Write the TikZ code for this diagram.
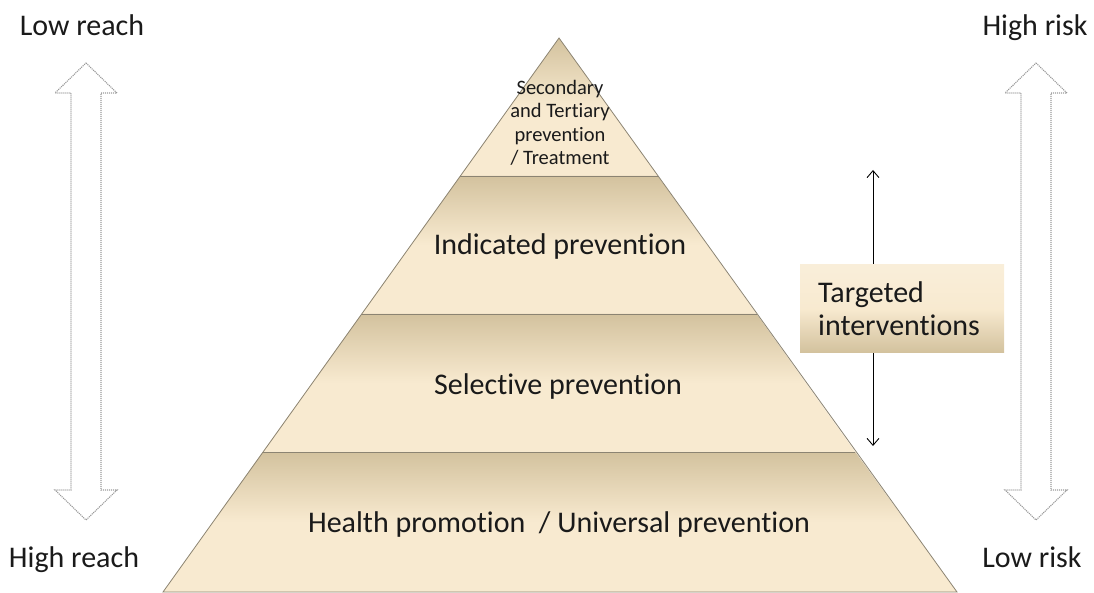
\documentclass[tikz,border=0pt]{standalone}
\usepackage{fontspec}
\setmainfont{Carlito}[Ligatures={NoCommon,NoContextual}]
\usetikzlibrary{arrows.meta}
\definecolor{tanD}{HTML}{D3C29E}
\definecolor{tanL}{HTML}{F8EAD0}
\definecolor{edgeC}{HTML}{8C8472}
\definecolor{txtC}{HTML}{1A1A1A}
\tikzset{
  band/.style={top color=tanD, bottom color=tanL, middle color=tanL},
  edge/.style={draw=edgeC, line width=0.8pt},
  lbl/.style={text=txtC, font=\fontsize{30}{34}\selectfont, inner sep=0pt},
  blockarrow/.style={draw=gray!80, line width=1.1pt, dash pattern=on 1.1pt off 0.9pt},
}
\begin{document}
\begin{tikzpicture}[x=1pt,y=-1pt]
\useasboundingbox (0,0) rectangle (1094,593);
% pyramid bands
\coordinate (apex) at (559,38);
\shade[band] (apex) -- (657.9,176) -- (460.1,176) -- cycle;
\shade[band] (460.1,176) -- (657.9,176) -- (756.6,314) -- (361.4,314) -- cycle;
\shade[band] (361.4,314) -- (756.6,314) -- (855.3,452) -- (262.7,452) -- cycle;
\shade[band] (262.7,452) -- (855.3,452) -- (957,592) -- (163,592) -- cycle;
\draw[edge] (apex) -- (957,592) -- (163,592) -- cycle;
\draw[edge] (460.1,176) -- (657.9,176);
\draw[edge] (361.4,314) -- (756.6,314);
\draw[edge] (262.7,452) -- (855.3,452);
% labels
\node[lbl, font=\fontsize{20.5}{23.5}\selectfont, align=center] (top) at (560,123) {Secondary\\and Tertiary\\prevention\\/ Treatment};
\node[lbl] (ind) at (560,247) {Indicated prevention};
\node[lbl] (sel) at (558,387) {Selective prevention};
\node[lbl] (uni) at (559,524) {Health promotion \ / Universal prevention};
% side labels
\node[lbl] (lowreach) at (82,25) {Low reach};
\node[lbl] (highreach) at (74,560) {High reach};
\node[lbl] (highrisk) at (1035,28) {High risk};
\node[lbl] (lowrisk) at (1032,557) {Low risk};
% block arrows
\draw[blockarrow] (86,63) -- (117,93) -- (101,93) -- (101,490) -- (117,490) -- (86,520) -- (55,490) -- (71,490) -- (71,93) -- (55,93) -- cycle;
\draw[blockarrow] (1036,63) -- (1067,93) -- (1051,93) -- (1051,490) -- (1067,490) -- (1036,520) -- (1005,490) -- (1021,490) -- (1021,93) -- (1005,93) -- cycle;
% targeted arrow and box
\coordinate (tt) at (873,170);
\coordinate (tb) at (873,446);
\draw[line width=0.9pt, {Straight Barb[length=7pt,width=12pt]}-{Straight Barb[length=7pt,width=12pt]}] (tt) -- (tb);
\node[top color=tanL!80!white, bottom color=tanD, middle color=tanL, minimum width=204pt, minimum height=87pt, inner sep=0pt] (tbox) at (902,308.5) {};
\node[lbl, anchor=west, align=left] (ttext) at (818,309) {Targeted\\[-1pt]interventions};
\end{tikzpicture}
\end{document}
